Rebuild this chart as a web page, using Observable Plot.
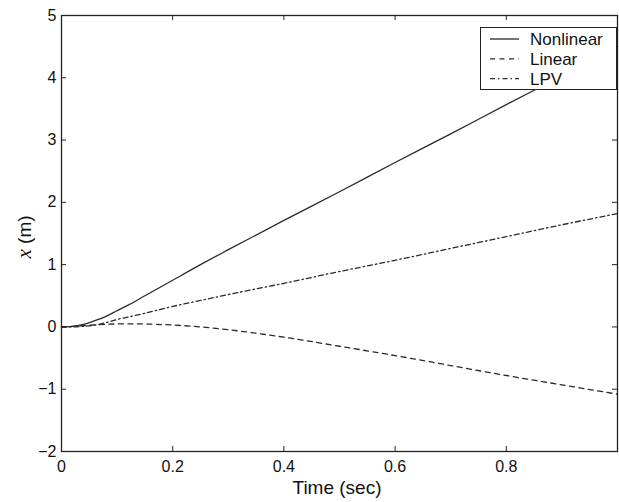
<!DOCTYPE html>
<html><head><meta charset="utf-8">
<script src="https://cdn.jsdelivr.net/npm/d3@7"></script>
<script src="https://cdn.jsdelivr.net/npm/@observablehq/plot@0.6"></script>
<style>
body{margin:0;background:#fff;}
#wrap{position:relative;width:619px;height:502px;overflow:hidden;font-family:Arial,"Liberation Sans",Helvetica,sans-serif;color:#111;}
#xlabel{position:absolute;left:337px;top:497px;transform:translate(-50%,-100%);font-size:19px;white-space:nowrap;line-height:1;}
#ylabel{position:absolute;left:24px;top:237px;transform:translate(-50%,-50%) rotate(-90deg);font-size:19px;white-space:nowrap;line-height:1;}
#ylabel i{font-family:"Liberation Serif","DejaVu Serif",serif;font-size:21px;}
#legend{position:absolute;left:480px;top:27px;width:137px;height:63px;box-sizing:border-box;border:1.3px solid #222;background:#fff;}
</style></head><body><div id="wrap"></div>
<script>
const seriesNames = ["Nonlinear", "Linear", "LPV"];
const time      = [0, 0.02, 0.04, 0.06, 0.08, 0.1, 0.12, 0.15, 0.2, 0.25, 0.3, 0.4, 0.5, 0.6, 0.7, 0.8, 0.9, 1.0];
const nonlinear = [0, 0.01, 0.04, 0.10, 0.17, 0.26, 0.35, 0.50, 0.75, 1.0, 1.24, 1.71, 2.17, 2.64, 3.10, 3.57, 4.03, 4.50];
const linear    = [0, 0.01, 0.02, 0.032, 0.042, 0.048, 0.05, 0.047, 0.03, 0.0, -0.045, -0.165, -0.31, -0.46, -0.62, -0.78, -0.93, -1.08];
const lpv       = [0, 0, 0.01, 0.03, 0.07, 0.12, 0.16, 0.22, 0.33, 0.425, 0.52, 0.70, 0.89, 1.07, 1.26, 1.45, 1.64, 1.82];
const xTicks = [0, 0.2, 0.4, 0.6, 0.8, 1];
const yTicks = [-2, -1, 0, 1, 2, 3, 4, 5];
const dashes = {Nonlinear: null, Linear: "5,4.5", LPV: "5,3,1.5,3"};

const W = 619, H = 502, mL = 61, mR = 2, mT = 15, mB = 51;
const innerW = W - mL - mR, innerH = H - mT - mB;
const valuesBySeries = {Nonlinear: nonlinear, Linear: linear, LPV: lpv};
const rows = seriesNames.map(s => time.map((t, i) => ({t, v: valuesBySeries[s][i], s})));
// the tick label "1" falls beyond the right edge of the picture in the reference
const fmtX = d => d === 1 ? "" : String(d);
const fmtY = d => d < 0 ? "\u2212" + Math.abs(d) : String(d);
const ink = "#222";

const lineMarks = seriesNames.map((s, k) => Plot.line(rows[k], {
  x: "t", y: "v", stroke: "#2a2a2a", strokeWidth: 1.3,
  strokeDasharray: dashes[s], curve: "monotone-x"
}));

const plot = Plot.plot({
  width: W, height: H,
  marginLeft: mL, marginRight: mR, marginTop: mT, marginBottom: mB,
  style: {fontFamily: 'Arial,"Liberation Sans",Helvetica,sans-serif', fontSize: "16px", background: "white", color: "#111"},
  x: {domain: [0, 1], ticks: xTicks, tickFormat: fmtX, tickSize: 0, tickPadding: 9, label: null},
  y: {domain: [-2, 5], ticks: yTicks, tickFormat: fmtY, tickSize: 0, tickPadding: 5, label: null},
  marks: [
    ...lineMarks,
    Plot.frame({stroke: ink, strokeWidth: 1.3}),
    Plot.tickX(xTicks, {x: d => d, insetTop: innerH - 5, stroke: ink}),
    Plot.tickX(xTicks, {x: d => d, insetBottom: innerH - 5, stroke: ink}),
    Plot.tickY(yTicks, {y: d => d, insetLeft: innerW - 5, stroke: ink}),
    Plot.tickY(yTicks, {y: d => d, insetRight: innerW - 5, stroke: ink})
  ]
});
const wrap = document.getElementById("wrap");
wrap.appendChild(plot);

const xl = document.createElement("div"); xl.id = "xlabel"; xl.textContent = "Time (sec)"; wrap.appendChild(xl);
const yl = document.createElement("div"); yl.id = "ylabel"; yl.innerHTML = "<i>x</i> (m)"; wrap.appendChild(yl);

// legend
const lg = document.createElement("div"); lg.id = "legend";
const ns = "http://www.w3.org/2000/svg";
const svg = document.createElementNS(ns, "svg");
svg.setAttribute("width", 135); svg.setAttribute("height", 61);
svg.style.display = "block";
seriesNames.forEach((s, i) => {
  const y = 11 + i * 19.8;
  const ln = document.createElementNS(ns, "line");
  ln.setAttribute("x1", 9); ln.setAttribute("x2", 38); ln.setAttribute("y1", y); ln.setAttribute("y2", y);
  ln.setAttribute("stroke", "#2a2a2a"); ln.setAttribute("stroke-width", 1.3);
  if (dashes[s]) ln.setAttribute("stroke-dasharray", dashes[s]);
  svg.appendChild(ln);
  const tx = document.createElementNS(ns, "text");
  tx.setAttribute("x", 49); tx.setAttribute("y", y + 6);
  tx.setAttribute("font-size", 17); tx.setAttribute("fill", "#111");
  tx.setAttribute("font-family", 'Arial,"Liberation Sans",Helvetica,sans-serif');
  tx.textContent = s;
  svg.appendChild(tx);
});
lg.appendChild(svg);
wrap.appendChild(lg);
</script>
</body></html>
